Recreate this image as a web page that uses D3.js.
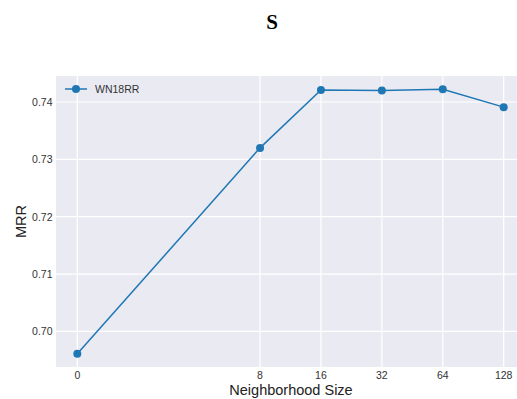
<!DOCTYPE html>
<html>
<head>
<meta charset="utf-8">
<script src="https://cdn.jsdelivr.net/npm/d3@7"></script>
<style>
  body { margin: 0; background: #fff; }
  svg { display: block; }
</style>
</head>
<body>
<svg id="chart"></svg>
<script>
var w = 517;
var h = 399;

// data
var neighborSizes = [0, 8, 16, 32, 64, 128];
var mrrValues = [0.6961, 0.7320, 0.7421, 0.7420, 0.7422, 0.7391];
var xTicks = [0, 8, 16, 32, 64, 128];
var yTicks = [0.70, 0.71, 0.72, 0.73, 0.74];
var seriesName = "WN18RR";

var margin = {left: 56, top: 76, right: -8, bottom: 32};
var svg = d3.select("#chart").attr("width", w).attr("height", h);

// size 0 sits one doubling step left of 2 (drawn like a 1 on the log2 axis)
var pos = d => Math.max(d, 1);
var x = d3.scaleLog().base(2)
    .domain([Math.pow(2, -0.35), Math.pow(2, 7.35)])
    .range([margin.left, w - margin.right]);
var y = d3.scaleLinear()
    .domain([0.69380, 0.74453])
    .range([h - margin.bottom, margin.top]);

var font = "'Liberation Sans', Arial, sans-serif";

svg.append("rect")
    .attr("x", x.range()[0]).attr("y", margin.top)
    .attr("width", x.range()[1] - x.range()[0])
    .attr("height", y.range()[0] - margin.top)
    .attr("fill", "#EAEAF2");

// grid
svg.append("g").selectAll("line").data(xTicks).enter().append("line")
    .attr("x1", d => x(pos(d))).attr("x2", d => x(pos(d)))
    .attr("y1", margin.top).attr("y2", y.range()[0])
    .attr("stroke", "#fff").attr("stroke-width", 1.2);
svg.append("g").selectAll("line").data(yTicks).enter().append("line")
    .attr("x1", x.range()[0]).attr("x2", x.range()[1])
    .attr("y1", d => y(d)).attr("y2", d => y(d))
    .attr("stroke", "#fff").attr("stroke-width", 1.2);

// tick labels
svg.append("g").selectAll("text").data(xTicks).enter().append("text")
    .attr("x", d => x(pos(d))).attr("y", y.range()[0] + 11.5)
    .attr("text-anchor", "middle")
    .style("font-family", font).style("font-size", "10.5px").style("fill", "#333")
    .text(d => d);
svg.append("g").selectAll("text").data(yTicks).enter().append("text")
    .attr("x", margin.left - 3.5).attr("y", d => y(d) + 3.8)
    .attr("text-anchor", "end")
    .style("font-family", font).style("font-size", "10.5px").style("fill", "#333")
    .text(d => d.toFixed(2));

// line + markers
var pts = neighborSizes.map((d, i) => [d, mrrValues[i]]);
var line = d3.line().x(d => x(pos(d[0]))).y(d => y(d[1]));
svg.append("path").datum(pts)
    .attr("d", line)
    .attr("fill", "none").attr("stroke", "#1f77b4").attr("stroke-width", 1.5);
svg.append("g").selectAll("circle").data(pts).enter().append("circle")
    .attr("cx", d => x(pos(d[0]))).attr("cy", d => y(d[1]))
    .attr("r", 4).attr("fill", "#1f77b4");

// legend
var lg = svg.append("g").attr("transform", "translate(65,89)");
lg.append("line").attr("x1", 0).attr("x2", 22).attr("y1", 0).attr("y2", 0)
    .attr("stroke", "#1f77b4").attr("stroke-width", 1.5);
lg.append("circle").attr("cx", 11).attr("cy", 0).attr("r", 4).attr("fill", "#1f77b4");
lg.append("text").attr("x", 30).attr("y", 3.8)
    .style("font-family", font).style("font-size", "10.5px").style("fill", "#333")
    .text(seriesName);

// titles
svg.append("text").attr("x", 272).attr("y", 29)
    .attr("text-anchor", "middle")
    .style("font-family", "'Liberation Serif', 'DejaVu Serif', serif")
    .style("font-weight", "bold").style("font-size", "21px")
    .text("S");
svg.append("text").attr("x", 291).attr("y", 395)
    .attr("text-anchor", "middle")
    .style("font-family", font).style("font-size", "14.5px").style("fill", "#222")
    .text("Neighborhood Size");
svg.append("text")
    .attr("transform", "translate(26," + ((margin.top + y.range()[0]) / 2) + ") rotate(-90)")
    .attr("text-anchor", "middle")
    .style("font-family", font).style("font-size", "14.5px").style("fill", "#222")
    .text("MRR");
</script>
</body>
</html>
